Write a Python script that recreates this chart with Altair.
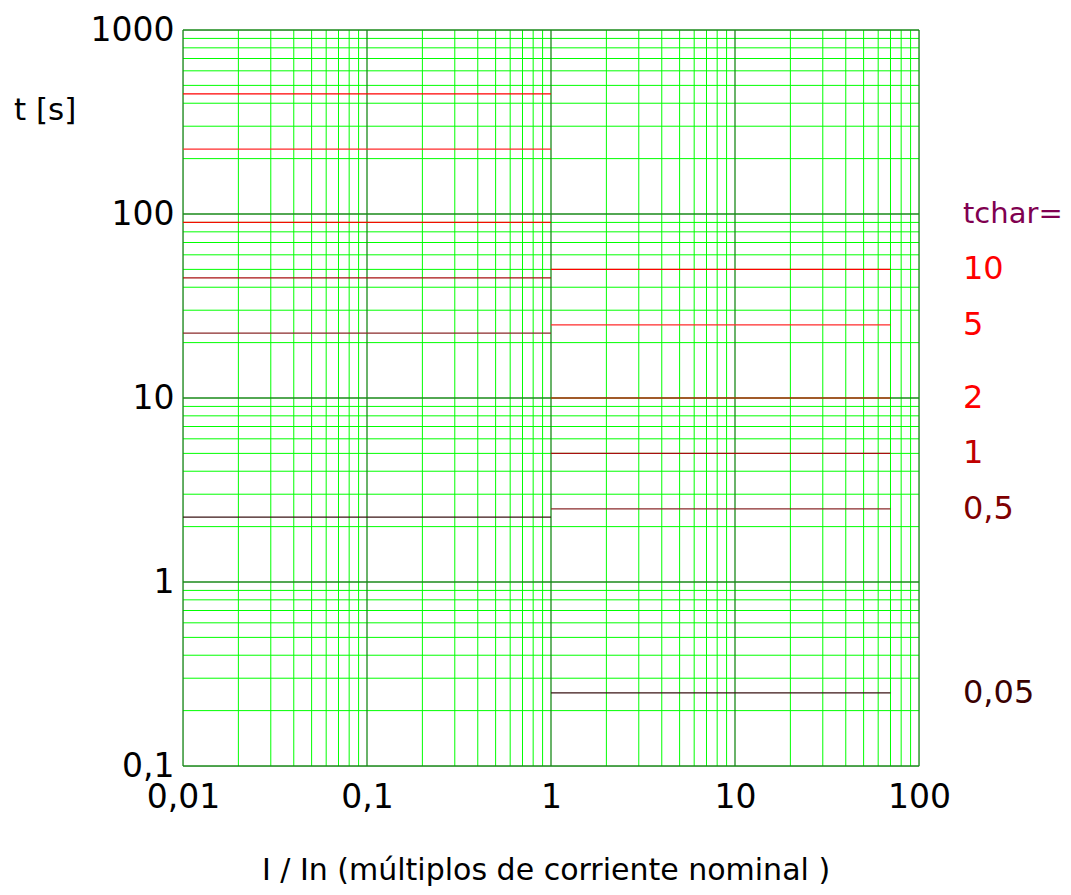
import altair as alt
import pandas as pd

# ---- data ----
tchar_labels = ["10", "5", "2", "1", "0,5", "0,05"]
left_t = [450, 225, 90, 45, 22.5, 2.25]      # segments for I/In 0.01 .. 1
right_t = [50, 25, 10, 5, 2.5, 0.25]         # segments for I/In 1 .. 70
left_x = [0.01, 1]
right_x = [1, 70]
line_colors = ["#ff0000", "#ff2a2a", "#f01000", "#a81010", "#8a2a2a", "#3a1414"]
label_colors = ["#ff0000", "#ff0000", "#ff0000", "#c00000", "#800000", "#3a0000"]
header_label = "tchar="
header_y = 100
header_color = "#800050"
x_decades = [0.01, 0.1, 1, 10, 100]
y_decades = [0.1, 1, 10, 100, 1000]
mantissas = [1, 2, 3, 4, 5, 6, 7, 8, 9]
x_title = "I / In (múltiplos de corriente nominal )"
y_title = "t [s]"

FONT = "DejaVu Sans"

# grid tables
x_minor = [m * d for d in x_decades[:-1] for m in mantissas[1:]]
y_minor = [m * d for d in y_decades[:-1] for m in mantissas[1:]]
xgrid_minor = pd.DataFrame({"x": x_minor})
xgrid_major = pd.DataFrame({"x": x_decades})
ygrid_minor = pd.DataFrame({"y": y_minor})
ygrid_major = pd.DataFrame({"y": y_decades})

segs = pd.DataFrame({
    "x": [left_x[0]] * len(left_t) + [right_x[0]] * len(right_t),
    "x2": [left_x[1]] * len(left_t) + [right_x[1]] * len(right_t),
    "y": left_t + right_t,
    "c": line_colors + line_colors,
})

labels = pd.DataFrame({"y": right_t, "txt": tchar_labels, "c": label_colors})
header = pd.DataFrame({"y": [header_y], "txt": [header_label]})

xs = alt.Scale(type="log", domain=[0.01, 100])
ys = alt.Scale(type="log", domain=[0.1, 1000])

x_axis = alt.Axis(values=x_decades, grid=False, ticks=False, domain=False,
                  labelExpr="replace(toString(datum.value), '.', ',')",
                  labelFont=FONT, labelFontSize=33, labelColor="#000000",
                  labelPadding=15, title=None, labelFlush=False)
y_axis = alt.Axis(values=y_decades, grid=False, ticks=False, domain=False,
                  labelExpr="replace(toString(datum.value), '.', ',')",
                  labelFont=FONT, labelFontSize=33, labelColor="#000000",
                  labelPadding=9, title=None, labelFlush=False)

X = lambda f: alt.X(f, scale=xs, axis=x_axis)
Y = lambda f: alt.Y(f, scale=ys, axis=y_axis)

gx_minor = alt.Chart(xgrid_minor).mark_rule(color="#00ff00", strokeWidth=1).encode(x=X("x:Q"))
gy_minor = alt.Chart(ygrid_minor).mark_rule(color="#00ff00", strokeWidth=1).encode(y=Y("y:Q"))
gx_major = alt.Chart(xgrid_major).mark_rule(color="#1a8a1a", strokeWidth=1.3).encode(x=X("x:Q"))
gy_major = alt.Chart(ygrid_major).mark_rule(color="#1a8a1a", strokeWidth=1.3).encode(y=Y("y:Q"))

seg_layer = alt.Chart(segs).mark_rule(strokeWidth=1.2).encode(
    x=X("x:Q"),
    x2="x2:Q",
    y=Y("y:Q"),
    color=alt.Color("c:N", scale=None),
)

label_layer = alt.Chart(labels).mark_text(
    align="left", baseline="middle", font=FONT, fontSize=32
).encode(
    x=alt.value(780),
    y=Y("y:Q"),
    text="txt:N",
    color=alt.Color("c:N", scale=None),
)

header_layer = alt.Chart(header).mark_text(
    align="left", baseline="middle", font=FONT, fontSize=29, color=header_color
).encode(
    x=alt.value(780),
    y=Y("y:Q"),
    text="txt:N",
)

ytitle = alt.Chart(pd.DataFrame({"t": [y_title]})).mark_text(
    align="left", baseline="middle", font=FONT, fontSize=31, color="#000000"
).encode(text="t:N", x=alt.value(-169), y=alt.value(81))

xtitle = alt.Chart(pd.DataFrame({"t": [x_title]})).mark_text(
    align="center", baseline="alphabetic", font=FONT, fontSize=30, color="#000000"
).encode(text="t:N", x=alt.value(363), y=alt.value(850))

chart = alt.layer(
    gx_minor, gy_minor, gx_major, gy_major, seg_layer, label_layer,
    header_layer, ytitle, xtitle
).properties(
    width=736, height=736,
    padding={"left": 175, "top": 22, "right": 144, "bottom": 121},
    autosize=alt.AutoSizeParams(type="none"),
).configure_view(
    stroke="#3a6a3a", strokeWidth=1.5
).configure(background="#ffffff")

chart.save("out.html", embed_options={"renderer": "svg", "actions": False})
